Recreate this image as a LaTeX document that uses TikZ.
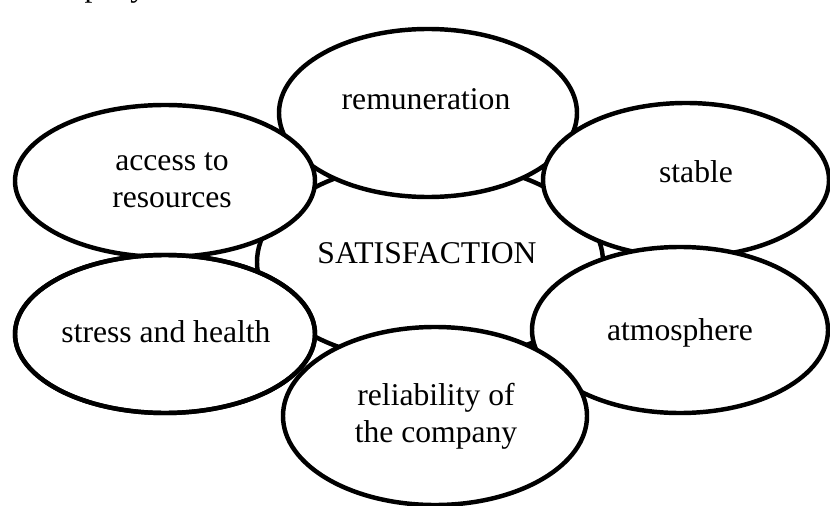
\documentclass[tikz,border=0pt]{standalone}
\usepackage{fontspec}
\setmainfont{Liberation Serif}
\usetikzlibrary{shapes.geometric}
\tikzset{
  oval/.style={ellipse,draw=black,line width=3.8pt,fill=white,inner sep=0pt},
  word/.style={inner sep=0pt,align=center,font=\fontsize{27}{31.6}\selectfont},
}
\begin{document}
\begin{tikzpicture}[x=0.03cm,y=-0.03cm]
  \useasboundingbox (0,0) rectangle (830,506);
  % line cut off at the top
  \node[word,anchor=base west] (cut) at (30,-3) {company};
  % centre
  \node[oval,minimum width=10.38cm,minimum height=6cm] (core) at (430,262) {};
  % ring of factors
  \node[oval,minimum width=8.94cm,minimum height=5.04cm] (pay) at (428,113) {};
  \node[oval,minimum width=9cm,minimum height=4.56cm] (access) at (165,181) {};
  \node[oval,minimum width=9cm,minimum height=4.74cm] (stress) at (165,334) {};
  \node[oval,minimum width=8.58cm,minimum height=4.62cm] (stable) at (686,180) {};
  \node[oval,minimum width=8.88cm,minimum height=4.98cm] (mood) at (680,330) {};
  \node[oval,minimum width=9.12cm,minimum height=5.34cm] (firm) at (435,416) {};
  % stress outline shows through
  \draw[line width=3.8pt] (stress.center) ellipse [x radius=150,y radius=79];
  % labels
  \node[word,anchor=base] (core-t) at (427,263) {SATISFACTION};
  \node[word,anchor=base] (pay-t) at (426,110) {remuneration};
  \node[word] (access-t) at (172,180) {access to\\resources};
  \node[word,anchor=base] (stress-t) at (166,342) {stress and health};
  \node[word,anchor=base] (stable-t) at (696,182) {stable};
  \node[word,anchor=base] (mood-t) at (680,340) {atmosphere};
  \node[word] (firm-t) at (436,416) {reliability of\\the company};
\end{tikzpicture}
\end{document}
